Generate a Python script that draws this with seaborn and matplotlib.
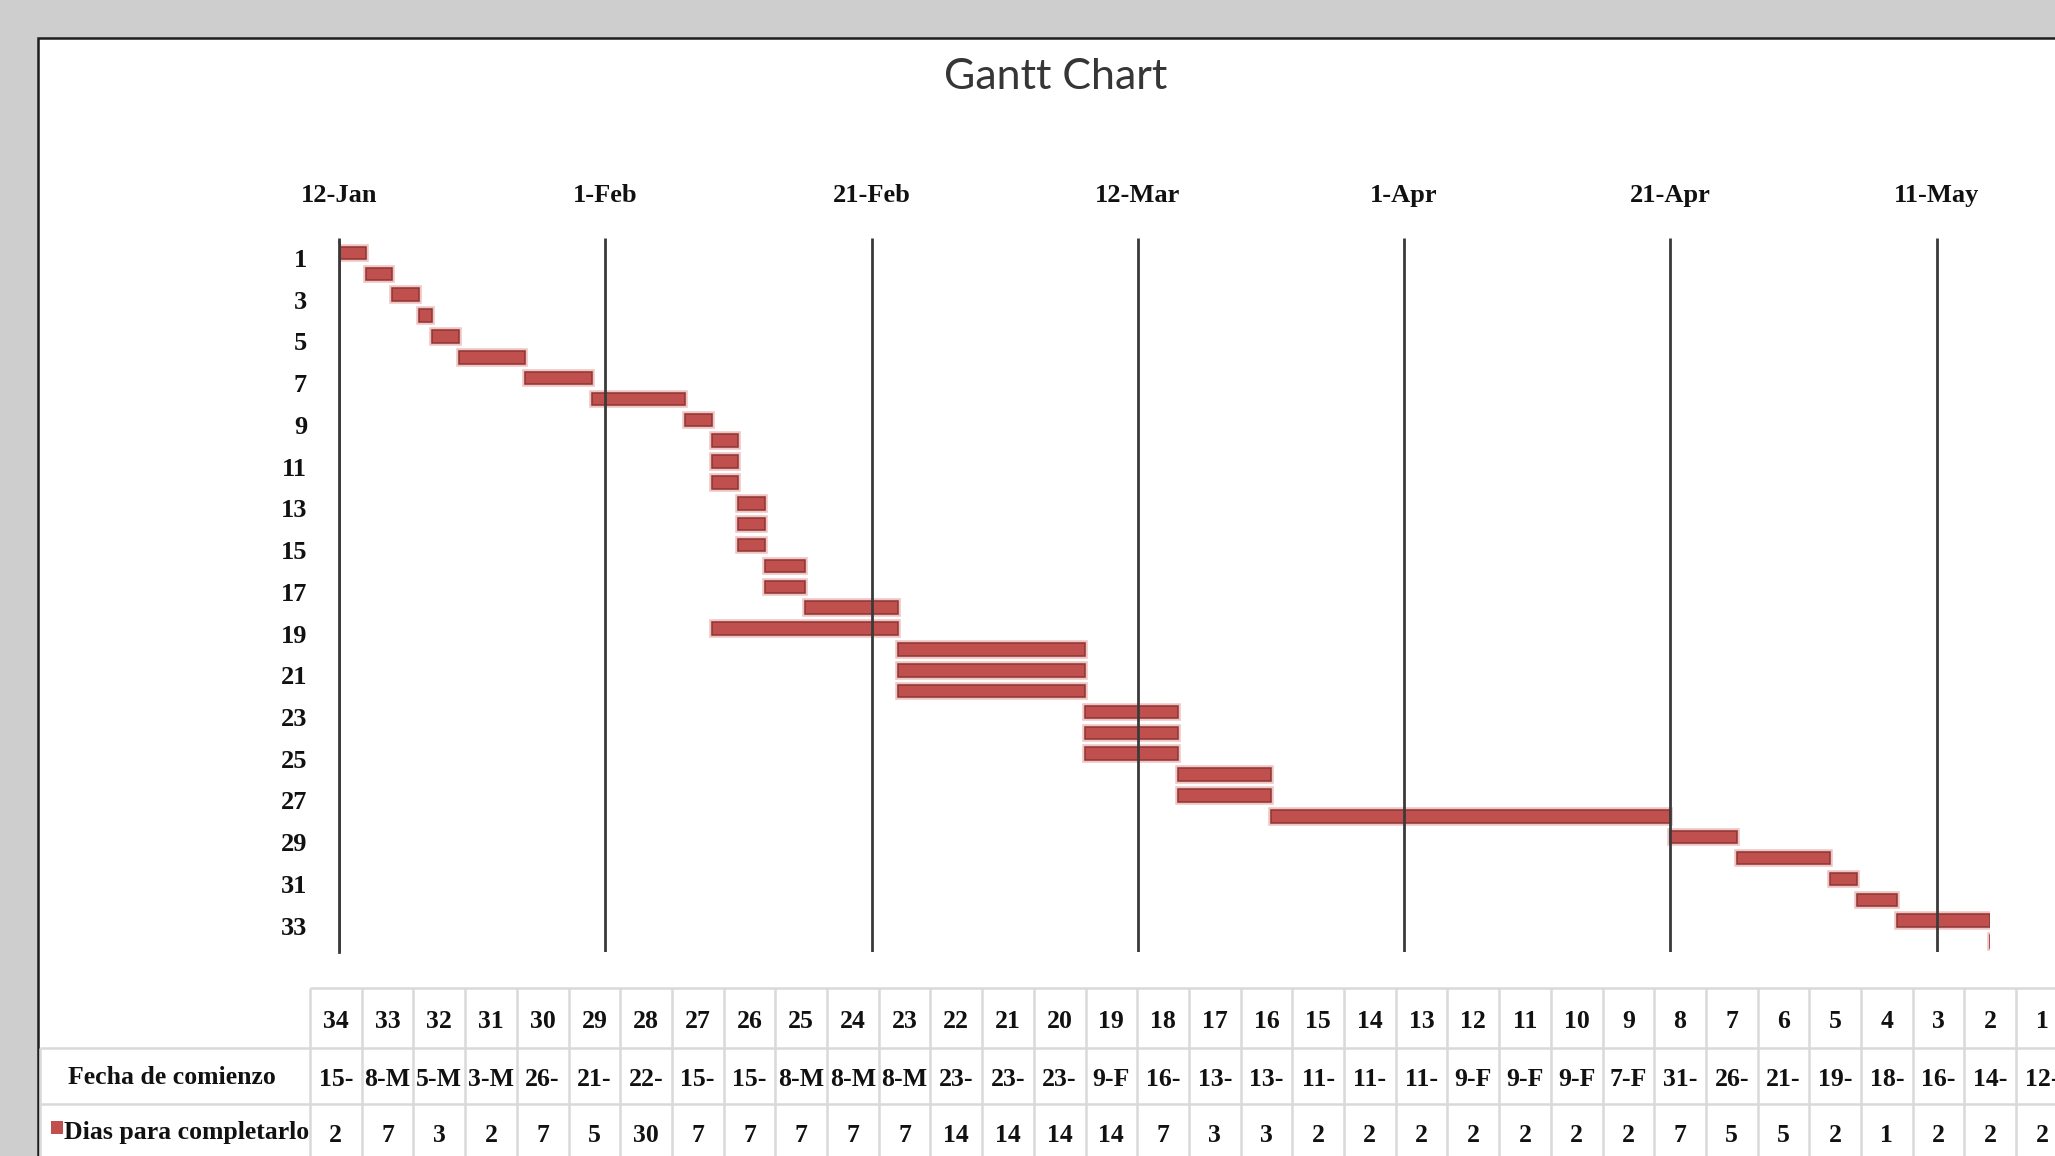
import matplotlib
matplotlib.use("Agg")
import numpy as np
import pandas as pd
import matplotlib.pyplot as plt
import matplotlib.dates as mdates
import matplotlib.patheffects as pe
import matplotlib.transforms as mtransforms
from matplotlib.patches import Rectangle
import seaborn as sns

# ---------------- data ----------------
tasks = [str(i) for i in range(1, 35)]
start_dates = ["2012-01-12", "2012-01-14", "2012-01-16", "2012-01-18", "2012-01-19",
               "2012-01-21", "2012-01-26", "2012-01-31", "2012-02-07", "2012-02-09",
               "2012-02-09", "2012-02-09", "2012-02-11", "2012-02-11", "2012-02-11",
               "2012-02-13", "2012-02-13", "2012-02-16", "2012-02-09", "2012-02-23",
               "2012-02-23", "2012-02-23", "2012-03-08", "2012-03-08", "2012-03-08",
               "2012-03-15", "2012-03-15", "2012-03-22", "2012-04-21", "2012-04-26",
               "2012-05-03", "2012-05-05", "2012-05-08", "2012-05-15"]
durations = [2, 2, 2, 1, 2, 5, 5, 7, 2, 2, 2, 2, 2, 2, 2, 3, 3, 7, 14, 14,
             14, 14, 7, 7, 7, 7, 7, 30, 5, 7, 2, 3, 7, 2]
tick_dates = ["2012-01-12", "2012-02-01", "2012-02-21", "2012-03-12",
              "2012-04-01", "2012-04-21", "2012-05-11"]
x_range = ["2012-01-12", "2012-05-15"]
title = "Gantt Chart"
row_label_start = "Fecha de comienzo"
row_label_days = "Dias para completarlo"

# ---------------- styling ----------------
W, H = 2055, 1156
RED = "#c0504d"
GRID = "#3a3a3a"
sns.set_theme(style="white")
plt.rcParams["font.family"] = ["Liberation Serif", "DejaVu Serif"]

fig = plt.figure(figsize=(W / 100, H / 100), dpi=100, facecolor="#cecece")

# background / chart area + data table (pixel coordinates)
bg = fig.add_axes([0, 0, 1, 1])
bg.set_xlim(0, W)
bg.set_ylim(H, 0)
bg.axis("off")
bg.set_zorder(0)
bg.add_patch(Rectangle((38, 38), 2300, 1400, facecolor="white",
                       edgecolor="#1e1e1e", lw=1.8))

# ---------------- gantt bars ----------------
df = pd.DataFrame({"task": tasks,
                   "start": pd.to_datetime(start_dates),
                   "days": durations})
left = mdates.date2num(df["start"])

ax = fig.add_axes([339 / W, 1 - 952 / H, (1990 - 339) / W, (952 - 242.5) / H])
ax.set_zorder(2)
ax.patch.set_alpha(0)

sns.barplot(data=df, x="days", y="task", orient="h", order=tasks,
            color=RED, saturation=1, width=0.6, errorbar=None,
            left=left, edgecolor="#8c3533", linewidth=1.1,
            path_effects=[pe.Stroke(linewidth=4, foreground="#efc4c3"), pe.Normal()],
            ax=ax)

ax.set_xlim(mdates.date2num(pd.Timestamp(x_range[0])),
            mdates.date2num(pd.Timestamp(x_range[1])))
ax.set_ylim(len(tasks) - 0.5, -0.5)

tick_ts = pd.to_datetime(tick_dates)
ax.set_xticks(mdates.date2num(tick_ts))
ax.set_xticklabels([f"{d.day}-{d.strftime('%b')}" for d in tick_ts])
ax.xaxis.tick_top()
ax.set_yticks(range(0, len(tasks), 2))
ax.set_yticklabels(tasks[::2])
ax.set_xlabel("")
ax.set_ylabel("")

ax.tick_params(axis="x", top=True, bottom=False, length=3.5, width=2,
               color=GRID, pad=22, labelsize=19)
ax.tick_params(axis="y", left=False, length=0, pad=23, labelsize=19)
shift_down = mtransforms.ScaledTranslation(0, -5 / 100, fig.dpi_scale_trans)
for lab in ax.get_yticklabels():
    lab.set_transform(lab.get_transform() + shift_down)
for lab in ax.get_xticklabels() + ax.get_yticklabels():
    lab.set_fontweight("bold")
    lab.set_color("#111111")

ax.grid(axis="x", color=GRID, lw=2.0)
ax.grid(axis="y", visible=False)
ax.set_axisbelow(False)
for s in ["top", "right", "bottom"]:
    ax.spines[s].set_visible(False)
ax.spines["left"].set_color(GRID)
ax.spines["left"].set_linewidth(2.0)

# ---------------- title ----------------
fig.text(1056 / W, 1 - 77 / H, title, family=["Lato", "DejaVu Sans"],
         fontsize=31, color="#363636", ha="center", va="center")

# ---------------- data table ----------------
x0, col_w = 310, 51.7
row_edges = [988, 1048, 1104, 1168]
ncols = len(tasks)
line_kw = dict(color="#d9d9d9", lw=1.8, solid_capstyle="butt")
bg.plot([x0, x0 + ncols * col_w], [row_edges[0]] * 2, **line_kw)
for y in row_edges[1:3]:
    bg.plot([40, x0 + ncols * col_w], [y, y], **line_kw)
for k in range(ncols + 1):
    bg.plot([x0 + k * col_w] * 2, [row_edges[0], row_edges[3]], **line_kw)
bg.plot([40, 40], [row_edges[1], row_edges[3]], **line_kw)

order_rev = list(range(ncols))[::-1]
txt_kw = dict(ha="center", va="center", fontsize=18.5, fontweight="bold", color="#111111")
starts_ts = pd.to_datetime(start_dates)
for col, i in enumerate(order_rev):
    cx = x0 + (col + 0.5) * col_w
    d = starts_ts[i]
    bg.text(cx, 1022, tasks[i], **txt_kw)
    bg.text(cx, 1080, f"{d.day}-{d.strftime('%b')}"[:3], **txt_kw)
    bg.text(cx, 1135, str(durations[i]), **txt_kw)

bg.text(172, 1078, row_label_start, **txt_kw)
bg.text(187, 1133, row_label_days, **txt_kw)
bg.add_patch(Rectangle((51, 1121), 12, 13, facecolor=RED, edgecolor="none"))

fig.savefig("out.png", dpi=100, facecolor=fig.get_facecolor())
